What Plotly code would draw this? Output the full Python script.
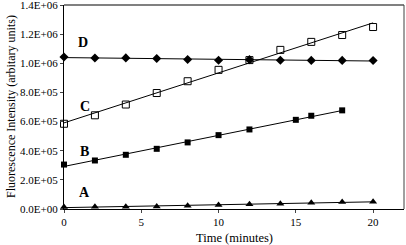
import numpy as np
import plotly.graph_objects as go

time_ad = [0, 2, 4, 6, 8, 10, 12, 14, 16, 18, 20]
series_d = [1.043e6, 1.036e6, 1.037e6, 1.033e6, 1.026e6, 1.021e6, 1.025e6, 1.021e6, 1.020e6, 1.020e6, 1.019e6]
series_c = [0.585e6, 0.643e6, 0.717e6, 0.796e6, 0.877e6, 0.955e6, 1.022e6, 1.092e6, 1.147e6, 1.194e6, 1.249e6]
time_b = [0, 2, 4, 6, 8, 10, 12, 15, 16, 18]
series_b = [0.305e6, 0.333e6, 0.372e6, 0.413e6, 0.457e6, 0.507e6, 0.546e6, 0.612e6, 0.640e6, 0.677e6]
series_a = [0.014e6, 0.015e6, 0.016e6, 0.018e6, 0.023e6, 0.027e6, 0.032e6, 0.036e6, 0.043e6, 0.048e6, 0.050e6]

labels = ["D", "C", "B", "A"]
label_x = [1.2, 1.35, 1.35, 1.35]
label_y = [1.14e6, 0.705e6, 0.395e6, 0.11e6]

y_tickvals = [0, 2e5, 4e5, 6e5, 8e5, 1e6, 1.2e6, 1.4e6]
y_ticktext = ["0.0E+00", "2.0E+05", "4.0E+05", "6.0E+05", "8.0E+05", "1.0E+06", "1.2E+06", "1.4E+06"]
x_tickvals = [0, 5, 10, 15, 20]

FONT = "'Liberation Serif', 'Times New Roman', serif"

fig = go.Figure()

specs = [
    (time_ad, series_d, dict(symbol="diamond", size=7, color="black")),
    (time_ad, series_c, dict(symbol="square-open", size=7, color="black", line=dict(width=1))),
    (time_b, series_b, dict(symbol="square", size=6, color="black")),
    (time_ad, series_a, dict(symbol="triangle-up", size=7, color="black")),
]

for xs, ys, mk in specs:
    coef = np.polyfit(xs, ys, 1)
    xl = [min(xs), max(xs)]
    yl = [coef[0] * v + coef[1] for v in xl]
    fig.add_trace(go.Scatter(x=xl, y=yl, mode="lines", line=dict(color="black", width=1),
                             showlegend=False, hoverinfo="skip", cliponaxis=False))
    fig.add_trace(go.Scatter(x=xs, y=ys, mode="markers", marker=mk, showlegend=False, cliponaxis=False))

for t, lx, ly in zip(labels, label_x, label_y):
    fig.add_annotation(x=lx, y=ly, text="<b>%s</b>" % t, showarrow=False,
                       font=dict(family=FONT, size=14, color="black"))

# axis titles
fig.add_annotation(xref="paper", yref="paper", x=0.5, y=0, yshift=-29, yanchor="middle",
                   text="Time (minutes)", showarrow=False, font=dict(family=FONT, size=12.5))
fig.add_annotation(xref="paper", yref="paper", x=0, xshift=-53, y=0.5, xanchor="center",
                   textangle=-90, text="Fluorescence Intensity (arbitary units)", showarrow=False,
                   font=dict(family=FONT, size=12))

# gray top and right frame
fig.add_shape(type="line", xref="paper", yref="paper", x0=0, x1=1, y0=1, y1=1,
              line=dict(color="#808080", width=2))
fig.add_shape(type="line", xref="paper", yref="paper", x0=1, x1=1, y0=0, y1=1,
              line=dict(color="#404040", width=1))

fig.update_layout(
    width=406, height=245,
    margin=dict(l=64, r=2, t=5, b=36),
    paper_bgcolor="white", plot_bgcolor="white",
    font=dict(family=FONT, size=11, color="black"),
    xaxis=dict(range=[0, 22], tickvals=x_tickvals, ticks="outside", ticklen=3, automargin=False,
               ticklabeloverflow="allow",
               showline=True, linecolor="black", linewidth=1, showgrid=False, zeroline=False),
    yaxis=dict(range=[0, 1.4001e6], tickvals=y_tickvals, ticktext=y_ticktext, ticks="outside", ticklen=3,
               automargin=False, ticklabeloverflow="allow",
               showline=True, linecolor="black", linewidth=1, showgrid=False, zeroline=False),
)

fig.write_html("out.html", config={"displayModeBar": False},
               post_script="document.body.style.margin='0';document.body.style.overflow='hidden';")
